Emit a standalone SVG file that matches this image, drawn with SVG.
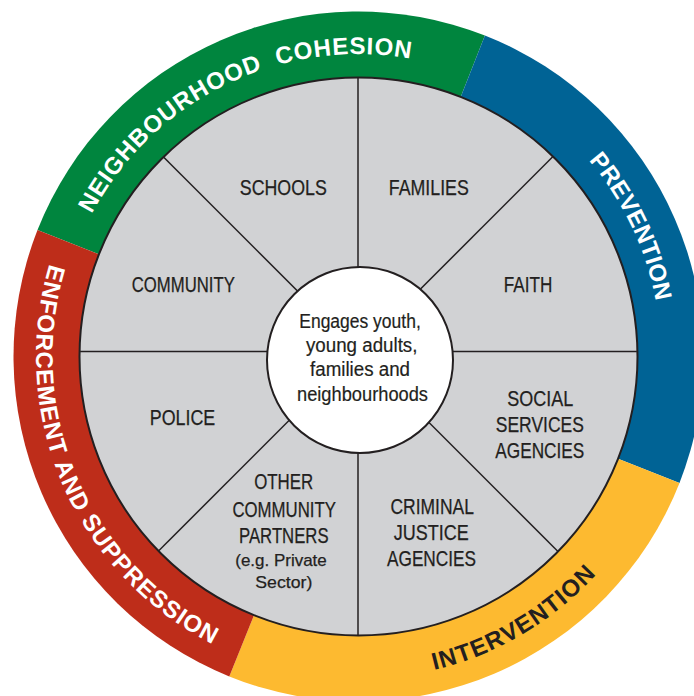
<svg xmlns="http://www.w3.org/2000/svg" width="694" height="696" viewBox="0 0 694 696">
<style>
.lbl{font-family:"Liberation Sans",Arial,sans-serif;font-size:21.5px;fill:#231f20;stroke:#231f20;stroke-width:0.25;text-anchor:middle}
.sm{font-size:17px}
.ctr{font-family:"Liberation Sans",Arial,sans-serif;font-size:19.5px;fill:#231f20;stroke:#231f20;stroke-width:0.2;text-anchor:middle}
.ring{font-family:"Liberation Sans",Arial,sans-serif;font-weight:bold;font-size:24px;white-space:pre;text-anchor:middle}
.spoke{stroke:#231f20;stroke-width:1.5;fill:none}
</style>
<defs>
<clipPath id="gc"><circle cx="358.5" cy="356.5" r="278.5"/></clipPath>
<path id="pN" d="M 56.8 335.4 A 302.4 302.4 0 0 1 527.6 105.8"/>
<path id="pP" d="M 382.2 55.0 A 302.4 302.4 0 0 1 607.7 527.8"/>
<path id="pI" d="M 199.7 637.2 A 322.5 322.5 0 0 0 681.0 353.7"/>
<path id="pE" d="M 100.3 163.3 A 322.5 322.5 0 0 0 320.3 676.7"/>
</defs>
<rect width="694" height="696" fill="#ffffff"/>
<g id="ring-neighbourhood-cohesion">
<path fill="#00853e" d="M 358.5 356.5 L 37.5 230.1 A 345 345 0 0 1 484.9 35.5 Z"/>
<text class="ring" fill="#ffffff" xml:space="preserve"><textPath href="#pN" startOffset="50%" textLength="379" lengthAdjust="spacing">NEIGHBOURHOOD  COHESION</textPath></text>
</g>
<g id="ring-prevention">
<path fill="#006395" d="M 358.5 356.5 L 484.9 35.5 A 345 345 0 0 1 679.5 482.9 Z"/>
<text class="ring" fill="#ffffff"><textPath href="#pP" startOffset="50%" textLength="158" lengthAdjust="spacing">PREVENTION</textPath></text>
</g>
<g id="ring-intervention">
<path fill="#fdba30" d="M 358.5 356.5 L 679.5 482.9 A 345 345 0 0 1 229.3 676.4 Z"/>
<text class="ring" fill="#231f20"><textPath href="#pI" startOffset="50%" textLength="191" lengthAdjust="spacing">INTERVENTION</textPath></text>
</g>
<g id="ring-enforcement">
<path fill="#be2d1a" d="M 358.5 356.5 L 229.3 676.4 A 345 345 0 0 1 37.5 230.1 Z"/>
<text class="ring" fill="#ffffff"><textPath href="#pE" startOffset="50%" textLength="449" lengthAdjust="spacing">ENFORCEMENT AND SUPPRESSION</textPath></text>
</g>
<circle id="partners-wheel" cx="358.5" cy="356.5" r="279" fill="#d1d2d4" stroke="#231f20" stroke-width="2"/>
<g id="connectors" clip-path="url(#gc)">
<line class="spoke" x1="358" y1="40" x2="358" y2="660"/>
<line class="spoke" x1="40" y1="351.5" x2="680" y2="351.5"/>
<line class="spoke" x1="58" y1="51.5" x2="658" y2="651.5"/>
<line class="spoke" x1="658" y1="51.5" x2="58" y2="651.5"/>
</g>
<g id="schools"><text class="lbl" x="283.3" y="195" textLength="87" lengthAdjust="spacingAndGlyphs">SCHOOLS</text></g>
<g id="families"><text class="lbl" x="428.8" y="195" textLength="80" lengthAdjust="spacingAndGlyphs">FAMILIES</text></g>
<g id="community"><text class="lbl" x="183.3" y="292.3" textLength="103" lengthAdjust="spacingAndGlyphs">COMMUNITY</text></g>
<g id="faith"><text class="lbl" x="528" y="292.3" textLength="48.5" lengthAdjust="spacingAndGlyphs">FAITH</text></g>
<g id="police"><text class="lbl" x="182.5" y="425" textLength="65.5" lengthAdjust="spacingAndGlyphs">POLICE</text></g>
<g id="other-community-partners">
<text class="lbl" x="283.7" y="489.3" textLength="59" lengthAdjust="spacingAndGlyphs">OTHER</text>
<text class="lbl" x="284.2" y="516.7" textLength="103.5" lengthAdjust="spacingAndGlyphs">COMMUNITY</text>
<text class="lbl" x="283.8" y="542.7" textLength="89.5" lengthAdjust="spacingAndGlyphs">PARTNERS</text>
<text class="lbl sm" x="281" y="566" textLength="91.5" lengthAdjust="spacingAndGlyphs">(e.g. Private</text>
<text class="lbl sm" x="283.8" y="587.7" textLength="57" lengthAdjust="spacingAndGlyphs">Sector)</text>
</g>
<g id="social-services-agencies">
<text class="lbl" x="540.3" y="406" textLength="66" lengthAdjust="spacingAndGlyphs">SOCIAL</text>
<text class="lbl" x="539.8" y="432" textLength="88" lengthAdjust="spacingAndGlyphs">SERVICES</text>
<text class="lbl" x="539.8" y="458.3" textLength="89" lengthAdjust="spacingAndGlyphs">AGENCIES</text>
</g>
<g id="criminal-justice-agencies">
<text class="lbl" x="432.2" y="513.7" textLength="83.5" lengthAdjust="spacingAndGlyphs">CRIMINAL</text>
<text class="lbl" x="431.3" y="540" textLength="75" lengthAdjust="spacingAndGlyphs">JUSTICE</text>
<text class="lbl" x="431.5" y="566" textLength="89" lengthAdjust="spacingAndGlyphs">AGENCIES</text>
</g>
<g id="centre">
<circle cx="360" cy="360" r="93" fill="#ffffff" stroke="#231f20" stroke-width="2"/>
<text class="ctr" x="360" y="328" textLength="121.5" lengthAdjust="spacingAndGlyphs">Engages youth,</text>
<text class="ctr" x="361.7" y="351.7" textLength="111.5" lengthAdjust="spacingAndGlyphs">young adults,</text>
<text class="ctr" x="360" y="376" textLength="100" lengthAdjust="spacingAndGlyphs">families and</text>
<text class="ctr" x="362.5" y="400.7" textLength="131" lengthAdjust="spacingAndGlyphs">neighbourhoods</text>
</g>
</svg>
